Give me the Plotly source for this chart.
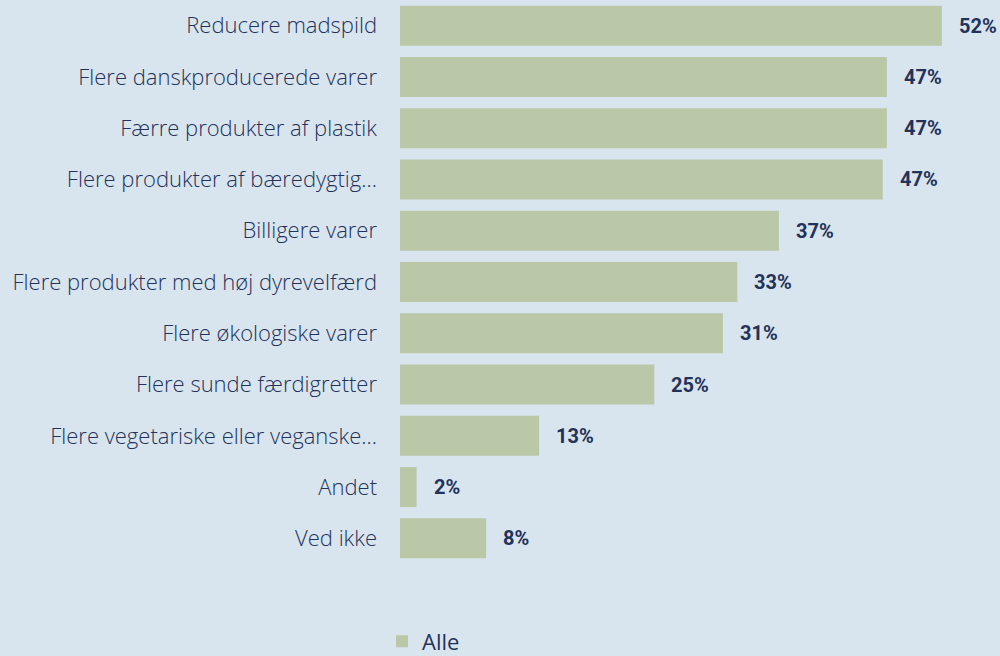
import plotly.graph_objects as go

categories = [
    "Reducere madspild",
    "Flere danskproducerede varer",
    "Færre produkter af plastik",
    "Flere produkter af bæredygtig...",
    "Billigere varer",
    "Flere produkter med høj dyrevelfærd",
    "Flere økologiske varer",
    "Flere sunde færdigretter",
    "Flere vegetariske eller veganske...",
    "Andet",
    "Ved ikke",
]
values = [52.2, 46.9, 46.9, 46.5, 36.5, 32.5, 31.1, 24.5, 13.4, 1.6, 8.3]
labels = ["52%", "47%", "47%", "47%", "37%", "33%", "31%", "25%", "13%", "2%", "8%"]
series_name = "Alle"

BG = "#d8e5ee"
BAR = "#bac8a8"
TXT = "#24325a"

fig = go.Figure()
fig.add_trace(go.Bar(
    y=categories, x=values, orientation="h", name=series_name,
    marker=dict(color=BAR, line=dict(width=0)),
    hoverinfo="skip",
))

for c, v, t in zip(categories, values, labels):
    fig.add_annotation(
        x=v, y=c, xref="x", yref="y", text=t, showarrow=False,
        xanchor="left", yanchor="middle", xshift=15,
        font=dict(family="Roboto", size=20, color=TXT, weight="bold"),
    )

fig.update_layout(
    width=1000, height=656,
    paper_bgcolor=BG, plot_bgcolor=BG,
    margin=dict(l=400, r=0, t=0, b=92),
    bargap=0.22,
    showlegend=True,
    legend=dict(
        orientation="h", xref="container", yref="container",
        x=0.382, y=0.022, xanchor="left", yanchor="middle",
        font=dict(family="Open Sans", size=22, color=TXT),
        bgcolor="rgba(0,0,0,0)",
    ),
    xaxis=dict(range=[0, 57.8], visible=False, fixedrange=True),
    yaxis=dict(
        autorange="reversed", showgrid=False, zeroline=False, showline=False,
        ticks="", ticklabelstandoff=22,
        tickfont=dict(family="Open Sans", size=22, color=TXT, weight=300),
        automargin=False,
    ),
)

fig.write_html("out.html", config={"displayModeBar": False},
               post_script="document.body.style.margin='0';")
